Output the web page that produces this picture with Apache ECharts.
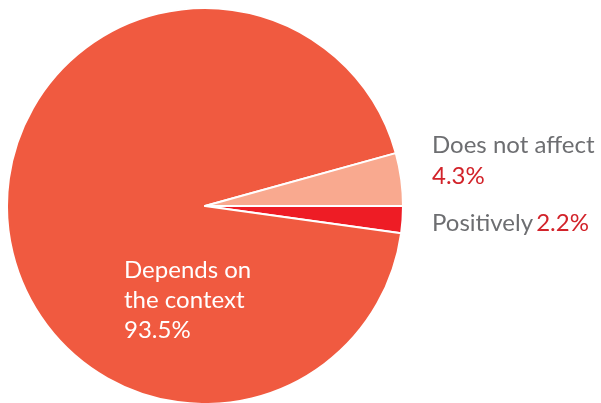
<!DOCTYPE html>
<html><head><meta charset="utf-8">
<script src="https://cdn.jsdelivr.net/npm/echarts@6/dist/echarts.min.js"></script>
<style>html,body{margin:0;padding:0;background:#fff}#c{width:601px;height:403px}</style>
</head><body><div id="c"></div>
<script>
const categories = ['Positively', 'Depends on the context', 'Does not affect'];
const values = [2.2, 93.5, 4.3];
const colors = ['#EE1C25', '#F05A40', '#F9A98F'];
const labelText = ['Positively', 'Depends on\nthe context', 'Does not affect'];

const chart = echarts.init(document.getElementById('c'));
const FONT = 'Lato';
chart.setOption({
  animation: false,
  series: [{
    type: 'pie',
    center: [205, 206],
    radius: [0, 198],
    startAngle: 0,
    clockwise: true,
    avoidLabelOverlap: false,
    data: categories.map((c, i) => ({
      name: c, value: values[i],
      itemStyle: { color: colors[i], borderColor: '#fff', borderWidth: 2 }
    })),
    label: {
      show: true,
      position: 'outside',
      overflow: 'none',
      fontFamily: FONT,
      formatter: function (p) {
        const i = p.dataIndex;
        const v = values[i].toFixed(1) + '%';
        if (i === 1) return labelText[i].split('\n').map(s => '{w|' + s + '}').join('\n') + '\n{w|' + v + '}';
        if (i === 0) return '{g|' + labelText[i] + '} {r|' + v + '}';
        return '{g|' + labelText[i] + '}\n{r|' + v + '}';
      },
      rich: {
        w: { color: '#fff', fontSize: 24, lineHeight: 30, fontFamily: FONT },
        g: { color: '#6D6E71', fontSize: 24, lineHeight: 31, fontFamily: FONT },
        r: { color: '#D2232A', fontSize: 24, lineHeight: 31, fontFamily: FONT }
      }
    },
    labelLine: { show: false },
    labelLayout: function (p) {
      if (p.dataIndex === 1) return { x: 124, y: 300, align: 'left', verticalAlign: 'middle', hideOverlap: false };
      if (p.dataIndex === 0) return { x: 432, y: 223, align: 'left', verticalAlign: 'middle', hideOverlap: false };
      return { x: 432, y: 161, align: 'left', verticalAlign: 'middle', hideOverlap: false };
    }
  }]
});
</script></body></html>
